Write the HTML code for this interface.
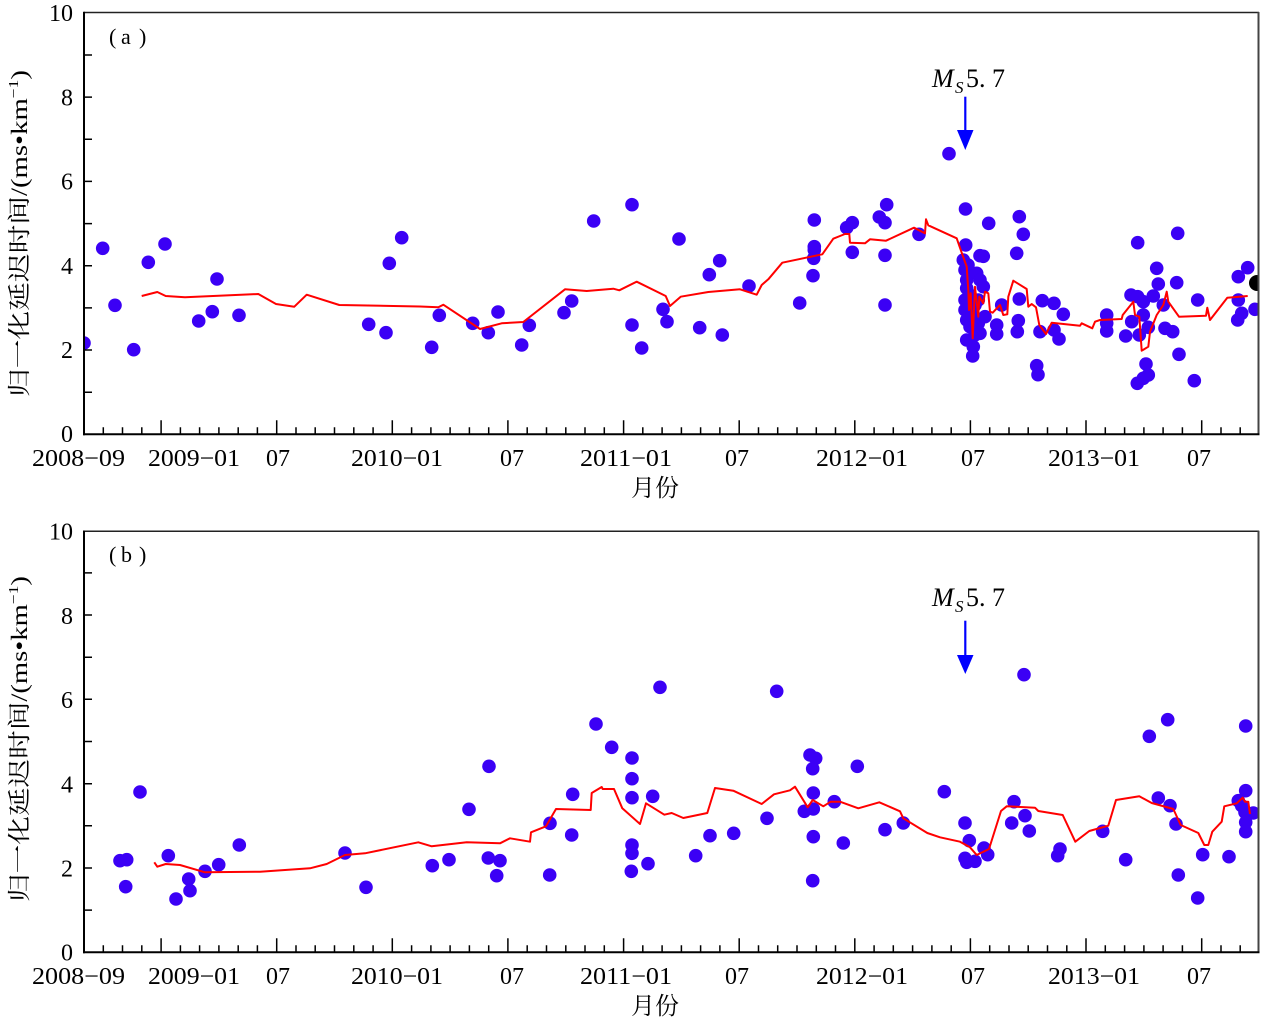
<!DOCTYPE html>
<html><head><meta charset="utf-8"><style>
html,body{margin:0;padding:0;background:#fff;}
svg{display:block;}
</style></head><body>
<svg width="1261" height="1019" viewBox="0 0 1261 1019" xmlns="http://www.w3.org/2000/svg">
<defs>
<clipPath id="ca"><rect x="84" y="12" width="1175" height="422.3"/></clipPath>
<clipPath id="cb"><rect x="84" y="530.7" width="1175" height="421.6"/></clipPath>
</defs>
<rect width="1261" height="1019" fill="#fff"/>

<!-- ============ PANEL A ============ -->
<g clip-path="url(#ca)" fill="#3b00f5">
<circle cx="84" cy="343" r="6.8"/><circle cx="102.7" cy="248.3" r="6.8"/><circle cx="115" cy="305.3" r="6.8"/><circle cx="133.7" cy="349.7" r="6.8"/><circle cx="148.3" cy="262.3" r="6.8"/><circle cx="165" cy="244" r="6.8"/><circle cx="198.7" cy="321" r="6.8"/><circle cx="212.3" cy="311.7" r="6.8"/><circle cx="217" cy="279" r="6.8"/><circle cx="239" cy="315.3" r="6.8"/><circle cx="368.7" cy="324.3" r="6.8"/><circle cx="386" cy="332.7" r="6.8"/><circle cx="389.3" cy="263.3" r="6.8"/><circle cx="401.7" cy="237.7" r="6.8"/><circle cx="431.7" cy="347.3" r="6.8"/><circle cx="439.3" cy="315.3" r="6.8"/><circle cx="472.7" cy="323.3" r="6.8"/><circle cx="488.3" cy="332.7" r="6.8"/><circle cx="498" cy="312" r="6.8"/><circle cx="521.7" cy="345" r="6.8"/><circle cx="529.3" cy="325.3" r="6.8"/><circle cx="564" cy="312.7" r="6.8"/><circle cx="571.7" cy="301" r="6.8"/><circle cx="593.7" cy="221" r="6.8"/><circle cx="632" cy="204.7" r="6.8"/><circle cx="632" cy="325" r="6.8"/><circle cx="641.7" cy="348" r="6.8"/><circle cx="663" cy="309.3" r="6.8"/><circle cx="667" cy="321.7" r="6.8"/><circle cx="679" cy="239" r="6.8"/><circle cx="699.7" cy="327.7" r="6.8"/><circle cx="709.3" cy="274.7" r="6.8"/><circle cx="719.7" cy="260.7" r="6.8"/><circle cx="722.3" cy="335" r="6.8"/><circle cx="749" cy="286" r="6.8"/><circle cx="799.7" cy="303" r="6.8"/><circle cx="814.3" cy="220" r="6.8"/><circle cx="814.3" cy="246.7" r="6.8"/><circle cx="814.3" cy="250" r="6.8"/><circle cx="813.7" cy="258.3" r="6.8"/><circle cx="813" cy="275.7" r="6.8"/><circle cx="846.7" cy="227.7" r="6.8"/><circle cx="852.3" cy="222.7" r="6.8"/><circle cx="852.3" cy="252.3" r="6.8"/><circle cx="879.3" cy="217" r="6.8"/><circle cx="886.7" cy="204.7" r="6.8"/><circle cx="885" cy="222.7" r="6.8"/><circle cx="885" cy="255.3" r="6.8"/><circle cx="885" cy="305" r="6.8"/><circle cx="919" cy="234.3" r="6.8"/><circle cx="949" cy="153.7" r="6.8"/><circle cx="965.5" cy="209" r="6.8"/><circle cx="965.7" cy="245" r="6.8"/><circle cx="963.3" cy="260" r="6.8"/><circle cx="965" cy="270" r="6.8"/><circle cx="966.7" cy="280" r="6.8"/><circle cx="966.7" cy="288.3" r="6.8"/><circle cx="965" cy="300" r="6.8"/><circle cx="965" cy="310" r="6.8"/><circle cx="966.7" cy="320" r="6.8"/><circle cx="970" cy="326.7" r="6.8"/><circle cx="966.7" cy="340" r="6.8"/><circle cx="973.3" cy="346.7" r="6.8"/><circle cx="972.7" cy="356" r="6.8"/><circle cx="968" cy="265" r="6.8"/><circle cx="970" cy="295" r="6.8"/><circle cx="972" cy="315" r="6.8"/><circle cx="975" cy="335" r="6.8"/><circle cx="976.7" cy="273.3" r="6.8"/><circle cx="980" cy="255.7" r="6.8"/><circle cx="983.3" cy="256.3" r="6.8"/><circle cx="980" cy="280" r="6.8"/><circle cx="983.3" cy="286.7" r="6.8"/><circle cx="978.3" cy="300" r="6.8"/><circle cx="978.3" cy="323.3" r="6.8"/><circle cx="980" cy="333.3" r="6.8"/><circle cx="985" cy="316.7" r="6.8"/><circle cx="975" cy="305" r="6.8"/><circle cx="988.7" cy="223.3" r="6.8"/><circle cx="996.7" cy="325" r="6.8"/><circle cx="996.7" cy="334" r="6.8"/><circle cx="1001.7" cy="305" r="6.8"/><circle cx="1019.3" cy="216.7" r="6.8"/><circle cx="1023.3" cy="234.3" r="6.8"/><circle cx="1016.7" cy="253.3" r="6.8"/><circle cx="1019.3" cy="299" r="6.8"/><circle cx="1018.3" cy="320.7" r="6.8"/><circle cx="1017.3" cy="331.7" r="6.8"/><circle cx="1036.7" cy="365.7" r="6.8"/><circle cx="1038" cy="374.7" r="6.8"/><circle cx="1040" cy="331.7" r="6.8"/><circle cx="1042.3" cy="300.7" r="6.8"/><circle cx="1054" cy="303.3" r="6.8"/><circle cx="1054" cy="330" r="6.8"/><circle cx="1059" cy="339" r="6.8"/><circle cx="1063.3" cy="314.3" r="6.8"/><circle cx="1106.7" cy="315" r="6.8"/><circle cx="1106.7" cy="323.3" r="6.8"/><circle cx="1106.7" cy="331" r="6.8"/><circle cx="1125.7" cy="336" r="6.8"/><circle cx="1131" cy="295" r="6.8"/><circle cx="1137.7" cy="296.7" r="6.8"/><circle cx="1131.7" cy="321.7" r="6.8"/><circle cx="1137.7" cy="242.7" r="6.8"/><circle cx="1139.3" cy="335" r="6.8"/><circle cx="1143.3" cy="301.7" r="6.8"/><circle cx="1143.3" cy="315" r="6.8"/><circle cx="1148.3" cy="327.3" r="6.8"/><circle cx="1146" cy="364" r="6.8"/><circle cx="1148.3" cy="375" r="6.8"/><circle cx="1143.3" cy="378.3" r="6.8"/><circle cx="1137.3" cy="383.3" r="6.8"/><circle cx="1153.3" cy="296" r="6.8"/><circle cx="1156.7" cy="268.3" r="6.8"/><circle cx="1158.3" cy="284" r="6.8"/><circle cx="1163.3" cy="305" r="6.8"/><circle cx="1165" cy="328.3" r="6.8"/><circle cx="1172.7" cy="331.7" r="6.8"/><circle cx="1177.7" cy="233.3" r="6.8"/><circle cx="1176.7" cy="282.7" r="6.8"/><circle cx="1179" cy="354.3" r="6.8"/><circle cx="1197.7" cy="300" r="6.8"/><circle cx="1194.3" cy="380.7" r="6.8"/><circle cx="1238.3" cy="276.7" r="6.8"/><circle cx="1247.7" cy="267.7" r="6.8"/><circle cx="1238.3" cy="300" r="6.8"/><circle cx="1241.7" cy="313.3" r="6.8"/><circle cx="1237.7" cy="320" r="6.8"/><circle cx="1255" cy="309.3" r="6.8"/>
<circle cx="1257" cy="283" r="8" fill="#000"/>
</g>
<polyline clip-path="url(#ca)" fill="none" stroke="#ff0000" stroke-width="2" stroke-linejoin="round" points="141.7,296 157.3,292 165.7,296 185,297.3 258.3,294 276,304 294.3,306.7 306.7,294.7 339.3,305 393.3,306 420,306.5 438.3,307.3 443.3,304.7 480,329 501.7,323.3 523.3,322 565,289.3 586.7,291 613.3,288.7 619.3,290.3 636.7,281.7 665.7,296 670,306 680.7,296.7 708.3,292 740,289.3 756.7,294.7 761.7,285 768.3,279.3 782.3,262.7 822.3,254.3 833.3,238.7 840,236 845,234 849.3,234 850,242.7 865,243.3 870,239.3 886,240.7 914,227.7 925,233.3 926,219.3 928.3,225.3 956.7,238.3 961.7,252.7 966.7,266.7 968.3,290 969,310 970.7,293.3 972.7,338.3 975,286.7 978.3,316.7 979.3,296.7 983.3,303.3 985,291.7 988.3,293.3 990,311.7 992.7,312.7 1000,305 1003.3,315 1007.3,314.3 1008.3,296.7 1013.3,280.7 1026.7,289 1028.3,306.7 1031.7,304 1036,307.3 1039.3,325 1046,334 1051.7,322.7 1080,325.7 1081.7,323.3 1092.3,328.3 1095,321.7 1100,320 1121.7,319 1122.7,315 1133.3,301.7 1135,315 1139.3,316.7 1141.7,350.7 1148.3,346.7 1150,331.7 1156.7,315 1163.3,305 1166.7,291.7 1168.3,301.7 1179,316.7 1206,315.7 1207.3,307.7 1210,320 1227.3,297.7 1247.7,296"/>

<!-- frame a -->
<line x1="84" y1="12.5" x2="1259" y2="12.5" stroke="#222" stroke-width="1.5"/>
<line x1="1258.5" y1="12" x2="1258.5" y2="434.3" stroke="#444" stroke-width="2"/>
<line x1="84" y1="11.8" x2="84" y2="435.3" stroke="#000" stroke-width="2"/>
<line x1="83" y1="434.3" x2="1259.5" y2="434.3" stroke="#000" stroke-width="2"/>
<g stroke="#000" stroke-width="1.5">
<path d="M84 392.2h8M84 350h8M84 307.9h8M84 265.7h8M84 223.6h8M84 181.4h8M84 139.3h8M84 97.1h8M84 55h8"/>
<path d="M103.3 434.3v-7M122.5 434.3v-7M141.8 434.3v-7M161.1 434.3v-14M180.4 434.3v-7M199.6 434.3v-7M218.9 434.3v-7M238.2 434.3v-7M257.4 434.3v-7M276.7 434.3v-14M296 434.3v-7M315.2 434.3v-7M334.5 434.3v-7M353.8 434.3v-7M373.1 434.3v-7M392.3 434.3v-14M411.6 434.3v-7M430.9 434.3v-7M450.1 434.3v-7M469.4 434.3v-7M488.7 434.3v-7M507.9 434.3v-14M527.2 434.3v-7M546.5 434.3v-7M565.8 434.3v-7M585 434.3v-7M604.3 434.3v-7M623.6 434.3v-14M642.8 434.3v-7M662.1 434.3v-7M681.4 434.3v-7M700.6 434.3v-7M719.9 434.3v-7M739.2 434.3v-14M758.5 434.3v-7M777.7 434.3v-7M797 434.3v-7M816.3 434.3v-7M835.5 434.3v-7M854.8 434.3v-14M874.1 434.3v-7M893.3 434.3v-7M912.6 434.3v-7M931.9 434.3v-7M951.2 434.3v-7M970.4 434.3v-14M989.7 434.3v-7M1009 434.3v-7M1028.2 434.3v-7M1047.5 434.3v-7M1066.8 434.3v-7M1086 434.3v-14M1105.3 434.3v-7M1124.6 434.3v-7M1143.9 434.3v-7M1163.1 434.3v-7M1182.4 434.3v-7M1201.7 434.3v-14M1221 434.3v-7M1240.2 434.3v-7"/>
</g>
<g font-family="Liberation Serif, serif" font-size="24" fill="#000" text-anchor="end">
<text x="73" y="21">10</text><text x="73" y="105.5">8</text><text x="73" y="189.5">6</text><text x="73" y="274">4</text><text x="73" y="358">2</text><text x="73" y="442">0</text>
</g>
<g font-family="Liberation Serif, serif" font-size="24" fill="#000">
<text x="32" y="466" textLength="93" lengthAdjust="spacingAndGlyphs">2008−09</text>
<text x="148" y="466" textLength="92" lengthAdjust="spacingAndGlyphs">2009−01</text>
<text x="266" y="466">07</text>
<text x="351" y="466" textLength="92" lengthAdjust="spacingAndGlyphs">2010−01</text>
<text x="500" y="466">07</text>
<text x="580" y="466" textLength="92" lengthAdjust="spacingAndGlyphs">2011−01</text>
<text x="725" y="466">07</text>
<text x="816" y="466" textLength="92" lengthAdjust="spacingAndGlyphs">2012−01</text>
<text x="961" y="466">07</text>
<text x="1048" y="466" textLength="92" lengthAdjust="spacingAndGlyphs">2013−01</text>
<text x="1187" y="466">07</text>
</g>
<text x="655" y="496" text-anchor="middle" font-family="Liberation Serif, 'Noto Serif CJK SC', serif" font-size="24" fill="#000">月份</text>
<text transform="translate(27,233.5) rotate(-90)" text-anchor="middle" font-family="Liberation Serif, 'Noto Serif CJK SC', serif" font-size="23" fill="#000" textLength="327" lengthAdjust="spacingAndGlyphs">归一化延迟时间/(ms•km<tspan font-size="14" dy="-9">−1</tspan><tspan dy="9">)</tspan></text>
<g font-family="Liberation Serif, serif" font-size="22" fill="#000">
<text x="109" y="44">(</text><text x="121" y="44">a</text><text x="139" y="44">)</text>
</g>
<g font-family="Liberation Serif, serif" fill="#000">
<text x="932" y="87" font-size="26" font-style="italic">M</text>
<text x="955" y="93" font-size="17" font-style="italic">S</text>
<text x="966" y="87" font-size="26" textLength="39" lengthAdjust="spacing">5. 7</text>
</g>
<line x1="965.3" y1="96.7" x2="965.3" y2="134" stroke="#0000ff" stroke-width="2.2"/>
<polygon points="957,130 973.5,130 965.3,150" fill="#0000ff"/>

<!-- ============ PANEL B ============ -->
<g clip-path="url(#cb)" fill="#3b00f5">
<circle cx="120" cy="860.7" r="6.8"/><circle cx="126.7" cy="859.7" r="6.8"/><circle cx="125.7" cy="886.7" r="6.8"/><circle cx="140" cy="792" r="6.8"/><circle cx="168.3" cy="855.7" r="6.8"/><circle cx="176" cy="899" r="6.8"/><circle cx="188.7" cy="879" r="6.8"/><circle cx="190" cy="890.7" r="6.8"/><circle cx="205" cy="871.3" r="6.8"/><circle cx="218.7" cy="864.7" r="6.8"/><circle cx="239.3" cy="845" r="6.8"/><circle cx="345" cy="853" r="6.8"/><circle cx="366" cy="887.3" r="6.8"/><circle cx="432.3" cy="865.7" r="6.8"/><circle cx="449" cy="859.7" r="6.8"/><circle cx="469" cy="809.3" r="6.8"/><circle cx="489" cy="766.3" r="6.8"/><circle cx="488.3" cy="858" r="6.8"/><circle cx="500" cy="860.7" r="6.8"/><circle cx="496.7" cy="875.7" r="6.8"/><circle cx="550" cy="823.3" r="6.8"/><circle cx="549.7" cy="875" r="6.8"/><circle cx="572.7" cy="794.3" r="6.8"/><circle cx="571.7" cy="835" r="6.8"/><circle cx="596" cy="724" r="6.8"/><circle cx="611.7" cy="747.3" r="6.8"/><circle cx="632" cy="758" r="6.8"/><circle cx="632" cy="778.7" r="6.8"/><circle cx="632" cy="797.7" r="6.8"/><circle cx="632" cy="845" r="6.8"/><circle cx="632" cy="853.3" r="6.8"/><circle cx="631.3" cy="871.3" r="6.8"/><circle cx="660" cy="687.3" r="6.8"/><circle cx="652.7" cy="796.3" r="6.8"/><circle cx="648" cy="863.7" r="6.8"/><circle cx="695.7" cy="855.7" r="6.8"/><circle cx="710" cy="835.7" r="6.8"/><circle cx="733.7" cy="833.3" r="6.8"/><circle cx="776.7" cy="691.3" r="6.8"/><circle cx="767" cy="818.3" r="6.8"/><circle cx="810" cy="755" r="6.8"/><circle cx="815.7" cy="758.3" r="6.8"/><circle cx="812.7" cy="768.7" r="6.8"/><circle cx="813.3" cy="793" r="6.8"/><circle cx="804.3" cy="811.3" r="6.8"/><circle cx="813.3" cy="809" r="6.8"/><circle cx="813.3" cy="836.7" r="6.8"/><circle cx="812.7" cy="880.7" r="6.8"/><circle cx="834.3" cy="801.7" r="6.8"/><circle cx="843.3" cy="843" r="6.8"/><circle cx="857.3" cy="766.3" r="6.8"/><circle cx="885" cy="829.7" r="6.8"/><circle cx="903.3" cy="823" r="6.8"/><circle cx="944.3" cy="791.7" r="6.8"/><circle cx="965" cy="823" r="6.8"/><circle cx="969.3" cy="840.7" r="6.8"/><circle cx="965" cy="858.3" r="6.8"/><circle cx="966.7" cy="862.3" r="6.8"/><circle cx="975" cy="861.3" r="6.8"/><circle cx="984" cy="848" r="6.8"/><circle cx="987.7" cy="854.7" r="6.8"/><circle cx="1024" cy="674.7" r="6.8"/><circle cx="1014" cy="801.7" r="6.8"/><circle cx="1025" cy="815.7" r="6.8"/><circle cx="1011.7" cy="823" r="6.8"/><circle cx="1029.3" cy="831" r="6.8"/><circle cx="1060" cy="849" r="6.8"/><circle cx="1057.7" cy="855.7" r="6.8"/><circle cx="1102.7" cy="831.3" r="6.8"/><circle cx="1125.7" cy="859.7" r="6.8"/><circle cx="1149.3" cy="736.3" r="6.8"/><circle cx="1167.7" cy="719.7" r="6.8"/><circle cx="1158.3" cy="798" r="6.8"/><circle cx="1170" cy="805.7" r="6.8"/><circle cx="1176" cy="824" r="6.8"/><circle cx="1178.3" cy="875" r="6.8"/><circle cx="1197.7" cy="898" r="6.8"/><circle cx="1202.7" cy="854.7" r="6.8"/><circle cx="1229" cy="856.7" r="6.8"/><circle cx="1245.7" cy="726" r="6.8"/><circle cx="1245.7" cy="790.7" r="6.8"/><circle cx="1238.3" cy="800.7" r="6.8"/><circle cx="1241.7" cy="805.7" r="6.8"/><circle cx="1245" cy="812.3" r="6.8"/><circle cx="1253.3" cy="813" r="6.8"/><circle cx="1245.7" cy="822.3" r="6.8"/><circle cx="1245.7" cy="831.7" r="6.8"/>
</g>
<polyline clip-path="url(#cb)" fill="none" stroke="#ff0000" stroke-width="2" stroke-linejoin="round" points="154.3,862.3 157.3,866.7 165.7,864 180,865 205,872.3 260,871.7 310,868.3 326.7,864 345,855 365,853.3 418.3,842.3 431.7,846.3 466.7,842.3 500,843.3 510,838.3 530,841.7 531,832.3 546,826.3 556,809 590.7,810 591.7,793 601.7,787 602.7,789 614,789 622.3,808.3 640,824 646,803.3 664.3,814.7 671.7,813 683.3,818 707.3,813 715,788 733.3,790.7 761.7,804 774,794.3 790,790.3 795,786.7 807.7,807.3 812.7,800 823.3,806.3 830.7,801.7 840,801.7 858.3,808.3 879.3,802.3 900,811.3 903.3,818.3 927.3,833 940,837.3 960,841.7 970,847.3 976.7,855 989,849 1001,811 1006.7,806.3 1035,807.7 1038.3,811 1062.7,815 1075.3,841.7 1089.3,831 1108.3,825.7 1116,800 1139.3,796.3 1151.7,803 1173.3,809 1180.7,825 1198.3,833 1204.3,845 1208.3,845 1212.3,831.7 1221.7,821.7 1224.3,806.3 1236.7,803.3 1242.7,797.7 1245,801.7 1248.3,801.7 1250,814"/>

<!-- frame b -->
<line x1="84" y1="531.2" x2="1259" y2="531.2" stroke="#222" stroke-width="1.5"/>
<line x1="1258.5" y1="530.7" x2="1258.5" y2="952.3" stroke="#444" stroke-width="2"/>
<line x1="84" y1="530.5" x2="84" y2="953.3" stroke="#000" stroke-width="2"/>
<line x1="83" y1="952.3" x2="1259.5" y2="952.3" stroke="#000" stroke-width="2"/>
<g stroke="#000" stroke-width="1.5">
<path d="M84 910.1h8M84 868h8M84 825.8h8M84 783.7h8M84 741.5h8M84 699.3h8M84 657.2h8M84 615h8M84 572.9h8"/>
<path d="M103.3 952.3v-7M122.5 952.3v-7M141.8 952.3v-7M161.1 952.3v-14M180.4 952.3v-7M199.6 952.3v-7M218.9 952.3v-7M238.2 952.3v-7M257.4 952.3v-7M276.7 952.3v-14M296 952.3v-7M315.2 952.3v-7M334.5 952.3v-7M353.8 952.3v-7M373.1 952.3v-7M392.3 952.3v-14M411.6 952.3v-7M430.9 952.3v-7M450.1 952.3v-7M469.4 952.3v-7M488.7 952.3v-7M507.9 952.3v-14M527.2 952.3v-7M546.5 952.3v-7M565.8 952.3v-7M585 952.3v-7M604.3 952.3v-7M623.6 952.3v-14M642.8 952.3v-7M662.1 952.3v-7M681.4 952.3v-7M700.6 952.3v-7M719.9 952.3v-7M739.2 952.3v-14M758.5 952.3v-7M777.7 952.3v-7M797 952.3v-7M816.3 952.3v-7M835.5 952.3v-7M854.8 952.3v-14M874.1 952.3v-7M893.3 952.3v-7M912.6 952.3v-7M931.9 952.3v-7M951.2 952.3v-7M970.4 952.3v-14M989.7 952.3v-7M1009 952.3v-7M1028.2 952.3v-7M1047.5 952.3v-7M1066.8 952.3v-7M1086 952.3v-14M1105.3 952.3v-7M1124.6 952.3v-7M1143.9 952.3v-7M1163.1 952.3v-7M1182.4 952.3v-7M1201.7 952.3v-14M1221 952.3v-7M1240.2 952.3v-7"/>
</g>
<g font-family="Liberation Serif, serif" font-size="24" fill="#000" text-anchor="end">
<text x="73" y="539.5">10</text><text x="73" y="624">8</text><text x="73" y="708">6</text><text x="73" y="792.5">4</text><text x="73" y="876.5">2</text><text x="73" y="960.5">0</text>
</g>
<g font-family="Liberation Serif, serif" font-size="24" fill="#000">
<text x="32" y="984" textLength="93" lengthAdjust="spacingAndGlyphs">2008−09</text>
<text x="148" y="984" textLength="92" lengthAdjust="spacingAndGlyphs">2009−01</text>
<text x="266" y="984">07</text>
<text x="351" y="984" textLength="92" lengthAdjust="spacingAndGlyphs">2010−01</text>
<text x="500" y="984">07</text>
<text x="580" y="984" textLength="92" lengthAdjust="spacingAndGlyphs">2011−01</text>
<text x="725" y="984">07</text>
<text x="816" y="984" textLength="92" lengthAdjust="spacingAndGlyphs">2012−01</text>
<text x="961" y="984">07</text>
<text x="1048" y="984" textLength="92" lengthAdjust="spacingAndGlyphs">2013−01</text>
<text x="1187" y="984">07</text>
</g>
<text x="655" y="1014" text-anchor="middle" font-family="Liberation Serif, 'Noto Serif CJK SC', serif" font-size="24" fill="#000">月份</text>
<text transform="translate(27,739) rotate(-90)" text-anchor="middle" font-family="Liberation Serif, 'Noto Serif CJK SC', serif" font-size="23" fill="#000" textLength="326" lengthAdjust="spacingAndGlyphs">归一化延迟时间/(ms•km<tspan font-size="14" dy="-9">−1</tspan><tspan dy="9">)</tspan></text>
<g font-family="Liberation Serif, serif" font-size="22" fill="#000">
<text x="109" y="562">(</text><text x="121" y="562">b</text><text x="139" y="562">)</text>
</g>
<g font-family="Liberation Serif, serif" fill="#000">
<text x="932" y="606" font-size="26" font-style="italic">M</text>
<text x="955" y="612" font-size="17" font-style="italic">S</text>
<text x="966" y="606" font-size="26" textLength="39" lengthAdjust="spacing">5. 7</text>
</g>
<line x1="965.3" y1="620.7" x2="965.3" y2="658" stroke="#0000ff" stroke-width="2.2"/>
<polygon points="957,655 973.5,655 965.3,674" fill="#0000ff"/>
</svg>
</body></html>
